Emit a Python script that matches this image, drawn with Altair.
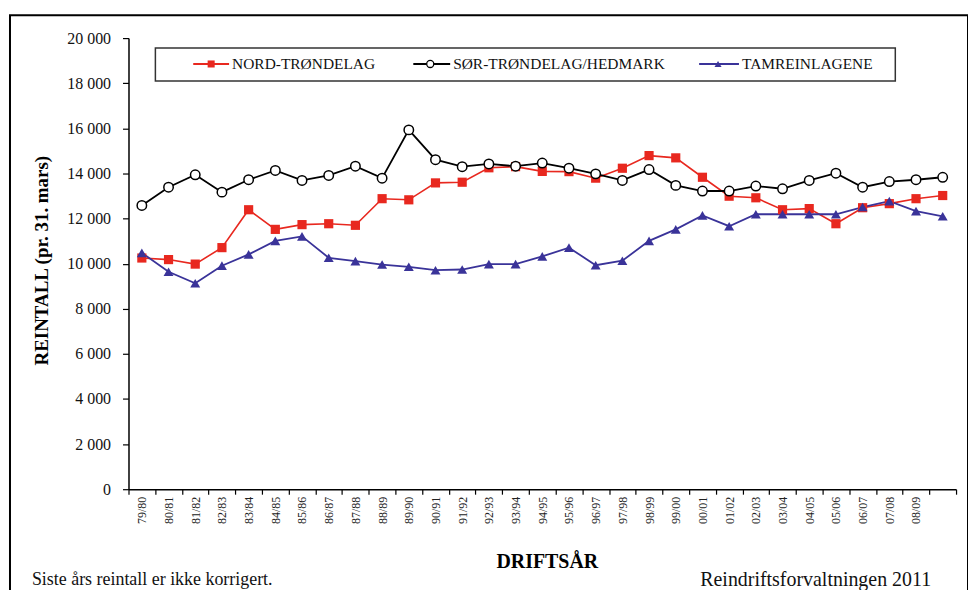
import altair as alt
import pandas as pd

years = ["79/80", "80/81", "81/82", "82/83", "83/84", "84/85", "85/86", "86/87",
         "87/88", "88/89", "89/90", "90/91", "91/92", "92/93", "93/94", "94/95",
         "95/96", "96/97", "97/98", "98/99", "99/00", "00/01", "01/02", "02/03",
         "03/04", "04/05", "05/06", "06/07", "07/08", "08/09", "09/10"]

nord = [10250, 10180, 9980, 10710, 12390, 11520, 11730, 11770, 11700, 12880,
        12830, 13580, 13610, 14250, 14300, 14090, 14080, 13790, 14230, 14790,
        14690, 13830, 12990, 12920, 12390, 12440, 11770, 12480, 12660, 12880, 13020]

sor = [12580, 13390, 13940, 13170, 13720, 14130, 13690, 13910, 14320, 13790,
       15930, 14610, 14300, 14420, 14320, 14460, 14230, 13980, 13690, 14170,
       13470, 13220, 13220, 13440, 13320, 13690, 14010, 13390, 13640, 13720, 13830]

tam = [10480, 9640, 9130, 9910, 10410, 11010, 11210, 10260, 10110, 9960,
       9860, 9710, 9740, 9980, 9980, 10320, 10710, 9930, 10130, 11010,
       11520, 12140, 11660, 12190, 12190, 12190, 12190, 12510, 12770, 12330, 12100]

series_names = ["NORD-TRØNDELAG", "SØR-TRØNDELAG/HEDMARK", "TAMREINLAGENE"]
y_ticks = list(range(0, 20001, 2000))

RED = "#e8281f"
BLUE = "#3a3399"
BLACK = "#000000"
SERIF = "Liberation Serif"

df = pd.DataFrame({"year": years, "nord": nord, "sor": sor, "tam": tam})

x_enc = alt.X(
    "year:N", sort=years,
    scale=alt.Scale(type="band", paddingInner=0, paddingOuter=0),
    axis=alt.Axis(
        labelAngle=-90, labelFont=SERIF, labelFontSize=12, labelColor="#222222",
        labelPadding=2, tickBand="extent", tickSize=5, tickColor=BLACK,
        domainColor=BLACK, domainWidth=1.5, tickWidth=1.2, grid=False,
        labelExpr="datum.value == '09/10' ? '' : datum.value",
        title="DRIFTSÅR", titleFont=SERIF, titleFontSize=20, titleFontWeight="bold",
        titleColor=BLACK, titleX=420, titleY=73, titleAlign="center",
        titleBaseline="middle", labelOverlap=False,
    ),
)


def y_enc(field):
    return alt.Y(
        f"{field}:Q",
        scale=alt.Scale(domain=[0, 20000], nice=False),
        axis=alt.Axis(
            values=y_ticks, tickSize=6, tickColor=BLACK, tickWidth=1.2,
            domainColor=BLACK, domainWidth=1.5, grid=False,
            labelFont=SERIF, labelFontSize=16, labelColor="#111111", labelPadding=12,
            labelExpr="replace(format(datum.value, ','), ',', ' ')",
            title="REINTALL (pr. 31. mars)", titleFont=SERIF, titleFontSize=19,
            titleFontWeight="bold", titleColor=BLACK, titleX=-87, titleY=223,
            titleAngle=-90, titleAlign="center", titleBaseline="middle",
        ),
    )


base = alt.Chart(df)

red_line = base.mark_line(color=RED, strokeWidth=1.6).encode(x=x_enc, y=y_enc("nord"))
red_pts = base.mark_point(shape="square", filled=True, color=RED, size=85, opacity=1).encode(
    x=x_enc, y=y_enc("nord"))
blk_line = base.mark_line(color=BLACK, strokeWidth=1.8).encode(x=x_enc, y=y_enc("sor"))
blk_pts = base.mark_point(shape="circle", filled=False, fill="white", color=BLACK,
                          strokeWidth=1.5, size=90, opacity=1).encode(x=x_enc, y=y_enc("sor"))
blu_line = base.mark_line(color=BLUE, strokeWidth=1.8).encode(x=x_enc, y=y_enc("tam"))
blu_pts = base.mark_point(shape="triangle-up", filled=True, color=BLUE, size=100, opacity=1).encode(
    x=x_enc, y=y_enc("tam"))

one = alt.Chart(pd.DataFrame({"a": [0]}))

# outer frame
frame = one.mark_rect(fill=None, stroke=BLACK, strokeWidth=2).encode(
    x=alt.value(-119), x2=alt.value(843), y=alt.value(-23), y2=alt.value(600))

# legend box
leg_box = one.mark_rect(fill="white", stroke="#333333", strokeWidth=1.5).encode(
    x=alt.value(27), x2=alt.value(770), y=alt.value(10), y2=alt.value(43))

LY = 26


def legend_item(x0, x1, xs, xt, color, shape, filled, label):
    ln = one.mark_rule(color=color, strokeWidth=2).encode(
        x=alt.value(x0), x2=alt.value(x1), y=alt.value(LY))
    if filled:
        pt = one.mark_point(shape=shape, filled=True, color=color, size=50, opacity=1).encode(
            x=alt.value(xs), y=alt.value(LY))
    else:
        pt = one.mark_point(shape=shape, filled=False, fill="white", color=color,
                            strokeWidth=1.3, size=50, opacity=1).encode(
            x=alt.value(xs), y=alt.value(LY))
    tx = one.mark_text(align="left", baseline="middle", font=SERIF, fontSize=15.5,
                       color="#111111", text=label).encode(x=alt.value(xt), y=alt.value(LY))
    return [ln, pt, tx]


legend_layers = (
    legend_item(65, 101, 83, 104, RED, "square", True, series_names[0])
    + legend_item(286, 323, 303, 326, BLACK, "circle", False, series_names[1])
    + legend_item(573, 613, 592, 616, BLUE, "triangle-up", True, series_names[2])
)

foot_left = one.mark_text(align="left", baseline="middle", font=SERIF, fontSize=18,
                          color="#111111", text="Siste års reintall  er ikke korrigert.").encode(
    x=alt.value(-97), y=alt.value(544))
foot_right = one.mark_text(align="right", baseline="middle", font=SERIF, fontSize=20,
                           color="#111111", text="Reindriftsforvaltningen 2011").encode(
    x=alt.value(806), y=alt.value(544))

chart = alt.layer(
    frame, red_line, blk_line, blu_line, red_pts, blk_pts, blu_pts,
    leg_box, *legend_layers, foot_left, foot_right,
).resolve_scale(y="shared").properties(
    width=831, height=453,
    autosize=alt.AutoSizeParams(type="none"),
    padding={"left": 121, "top": 29, "right": 12, "bottom": 100},
    background="white",
).configure_view(stroke=None)

chart.save("out.html", embed_options={"renderer": "svg", "actions": False})
